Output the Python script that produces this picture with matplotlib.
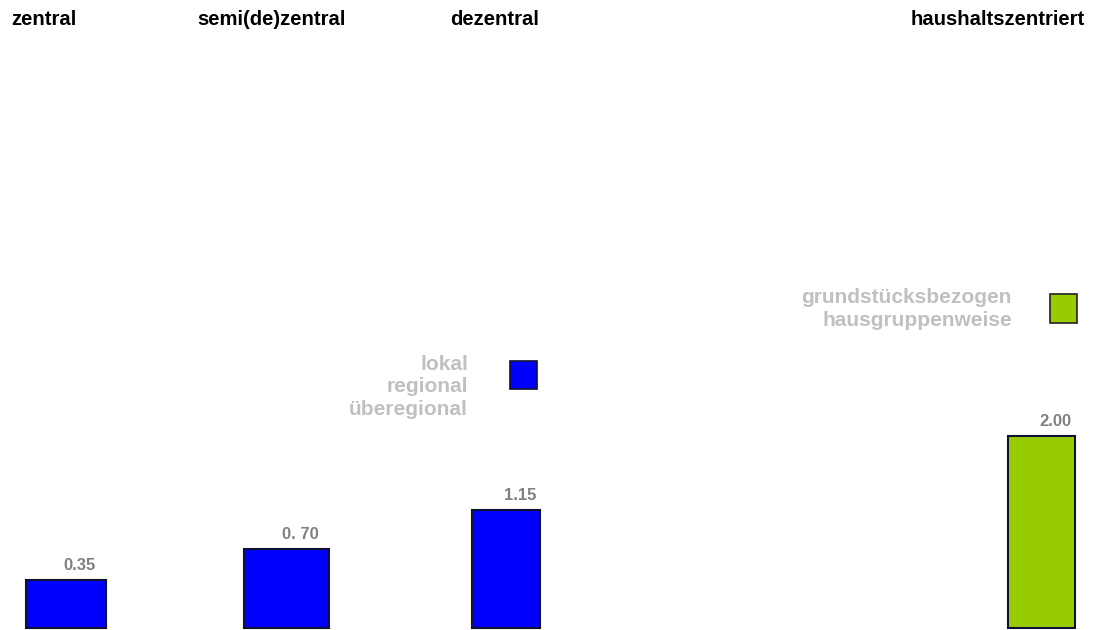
import matplotlib.pyplot as plt
from matplotlib.patches import Rectangle

plt.rcParams['font.family'] = ['Liberation Sans', 'DejaVu Sans']

# Daten
kategorien = ['zentral', 'semi(de)zentral', 'dezentral', 'haushaltszentriert']
werte = [0.35, 0.70, 1.15, 2.00]
wert_labels = ['0.35', '0. 70', '1.15', '2.00']
farben = ['#0000FF', '#0000FF', '#0000FF', '#99CC00']
gruppe_blau = ['lokal', 'regional', 'überegional']
gruppe_gruen = ['grundstücksbezogen', 'hausgruppenweise']

# Lage der Balken (Einheit ~220 px)
pos = [0, 1, 2, 4.434]
breite = [0.364, 0.386, 0.309, 0.305]

W, H = 1096, 630
fig = plt.figure(figsize=(W / 100, H / 100), dpi=100)
ax = fig.add_axes([0, 0, 1, 1])
ax.set_xlim(-0.3, 4.68)
ax.set_ylim(-0.222, 6.98)
ax.axis('off')

# Balken laufen bis knapp an den unteren Rand
y0 = -0.2
bars = ax.bar(pos, [w - y0 for w in werte], bottom=y0, width=breite, color=farben,
              edgecolor='#111133', linewidth=1.5)
for bar, w, lab in zip(bars, werte, wert_labels):
    ax.annotate(lab, xy=(bar.get_x() + bar.get_width() / 2, w),
                xytext=(10, 10.5), textcoords='offset points', ha='center', va='center',
                color='#808080', fontsize=12, fontweight='bold')

# Überschriften
kopf_x = [11, 197, 450, 911]
for x, t in zip(kopf_x, kategorien):
    fig.text(x / W, 1 - 25 / H, t, ha='left', va='baseline', fontsize=14.6,
             fontweight='bold', color='black')

# Legenden-Texte
fig.text(468 / W, 1 - 387 / H, '\n'.join(gruppe_blau), ha='right', va='center',
         color='#C0C0C0', fontsize=15, fontweight='bold', linespacing=1.24)
fig.text(1012 / W, 1 - 309 / H, '\n'.join(gruppe_gruen), ha='right', va='center',
         color='#C0C0C0', fontsize=15, fontweight='bold', linespacing=1.24)

fig.add_artist(Rectangle((510 / W, 1 - 389 / H), 27 / W, 28 / H, transform=fig.transFigure,
                         facecolor='#0000FF', edgecolor='#111133', linewidth=1.2))
fig.add_artist(Rectangle((1050 / W, 1 - 323 / H), 27 / W, 29 / H, transform=fig.transFigure,
                         facecolor='#99CC00', edgecolor='#222222', linewidth=1.2))

fig.savefig('out.png', dpi=100, facecolor='white')
